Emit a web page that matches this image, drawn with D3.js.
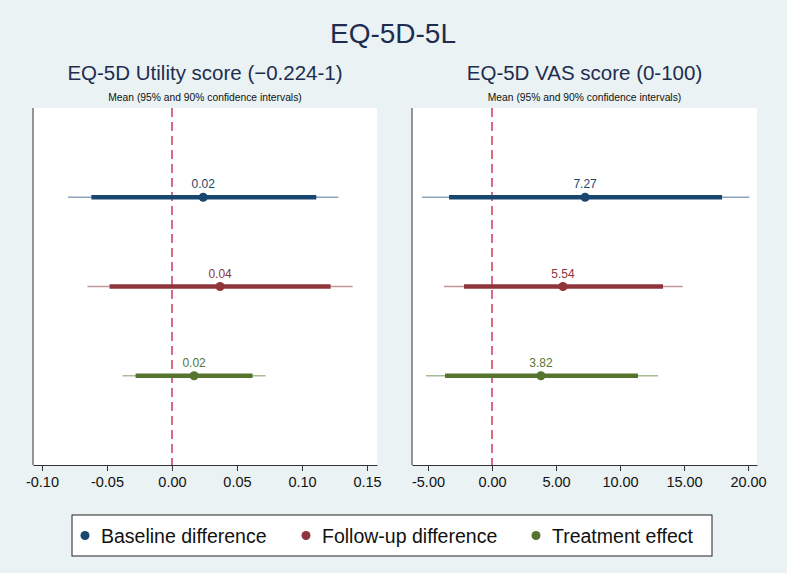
<!DOCTYPE html>
<html lang="en">
<head>
<meta charset="utf-8">
<title>EQ-5D-5L</title>
<script src="https://d3js.org/d3.v7.min.js"></script>
<style>
body { margin: 0; background: #eaf2f3; }
text { font-family: "Liberation Sans", Arial, sans-serif; }
</style>
</head>
<body>
<svg width="787" height="573"></svg>
<script>
var groups = ["Baseline difference", "Follow-up difference", "Treatment effect"];
var colors = ["#1a476f", "#90353b", "#55752f"];
var lightColors = ["#8ea3b7", "#c4969a", "#a9bb92"];

// utility score
var utilMean = [0.024, 0.037, 0.017];
var utilLabel = ["0.02", "0.04", "0.02"];
var util95Lo = [-0.080, -0.065, -0.038];
var util95Hi = [0.128, 0.139, 0.072];
var util90Lo = [-0.062, -0.048, -0.028];
var util90Hi = [0.111, 0.122, 0.062];
var utilTicks = [-0.10, -0.05, 0.00, 0.05, 0.10, 0.15];

// VAS score
var vasMean = [7.27, 5.54, 3.82];
var vasLabel = ["7.27", "5.54", "3.82"];
var vas95Lo = [-5.47, -3.75, -5.16];
var vas95Hi = [20.1, 14.9, 12.97];
var vas90Lo = [-3.36, -2.19, -3.67];
var vas90Hi = [17.97, 13.36, 11.4];
var vasTicks = [-5, 0, 5, 10, 15, 20];

var svg = d3.select("svg");

svg.append("text")
    .attr("x", 393).attr("y", 43)
    .attr("text-anchor", "middle")
    .attr("font-size", 28)
    .attr("fill", "#1e2d4f")
    .text("EQ-5D-5L");

var plotTop = 108, plotBottom = 465;

function panel(opt) {
  var g = svg.append("g");
  var x = d3.scaleLinear().domain(opt.domain).range([opt.left, opt.right]);
  var y = d3.scaleLinear().domain([0, 4]).range([plotTop, plotBottom]);
  var cx = (opt.left + opt.right) / 2;

  g.append("text")
      .attr("x", cx).attr("y", 80)
      .attr("text-anchor", "middle")
      .attr("font-size", 20.5)
      .attr("fill", "#1e2d4f")
      .text(opt.title);

  g.append("text")
      .attr("x", cx).attr("y", 101)
      .attr("text-anchor", "middle")
      .attr("font-size", 10.3)
      .attr("fill", "#111")
      .text("Mean (95% and 90% confidence intervals)");

  g.append("rect")
      .attr("x", opt.left).attr("y", plotTop)
      .attr("width", opt.right - opt.left).attr("height", plotBottom - plotTop)
      .attr("fill", "#fff");

  g.append("line")
      .attr("x1", x(0)).attr("x2", x(0))
      .attr("y1", plotTop).attr("y2", plotBottom)
      .attr("stroke", "#d0385a")
      .attr("stroke-width", 1.5)
      .attr("stroke-dasharray", "9,5");

  var rows = groups.map(function(d, i) {
    return {i: i, mean: opt.mean[i], label: opt.label[i],
            lo95: opt.lo95[i], hi95: opt.hi95[i], lo90: opt.lo90[i], hi90: opt.hi90[i]};
  });

  var r = g.selectAll(".row").data(rows).enter().append("g").attr("class", "row");

  r.append("line")
      .attr("x1", d => x(d.lo95)).attr("x2", d => x(d.hi95))
      .attr("y1", d => y(d.i + 1)).attr("y2", d => y(d.i + 1))
      .attr("stroke", d => lightColors[d.i])
      .attr("stroke-width", 1.5);

  r.append("line")
      .attr("x1", d => x(d.lo90)).attr("x2", d => x(d.hi90))
      .attr("y1", d => y(d.i + 1)).attr("y2", d => y(d.i + 1))
      .attr("stroke", d => colors[d.i])
      .attr("stroke-width", 4.5);

  r.append("circle")
      .attr("cx", d => x(d.mean)).attr("cy", d => y(d.i + 1))
      .attr("r", 4.5)
      .attr("fill", d => colors[d.i]);

  r.append("text")
      .attr("x", d => x(d.mean)).attr("y", d => y(d.i + 1) - 9)
      .attr("text-anchor", "middle")
      .attr("font-size", 12)
      .attr("fill", d => colors[d.i])
      .text(d => d.label);

  var axis = g.append("g")
      .attr("transform", `translate(0, ${plotBottom})`)
      .call(d3.axisBottom(x).tickValues(opt.ticks).tickSize(6).tickSizeOuter(0)
        .tickFormat(d => d3.format(opt.fmt)(d).replace("\u2212", "-")));
  axis.select(".domain").attr("stroke", "#333");
  axis.selectAll(".tick line").attr("stroke", "#333");
  axis.selectAll(".tick text").attr("font-size", 14.5).attr("fill", "#111").attr("dy", "0.9em")
      .attr("font-family", "Liberation Sans, Arial, sans-serif");

  g.append("line")
      .attr("x1", opt.left).attr("x2", opt.left)
      .attr("y1", plotTop).attr("y2", plotBottom)
      .attr("stroke", "#333");
}

panel({left: 33, right: 377, domain: [-0.1069, 0.1577], title: "EQ-5D Utility score (\u22120.224-1)",
       mean: utilMean, label: utilLabel, lo95: util95Lo, hi95: util95Hi, lo90: util90Lo, hi90: util90Hi,
       ticks: utilTicks, fmt: ".2f"});

panel({left: 412, right: 757, domain: [-6.25, 20.7], title: "EQ-5D VAS score (0-100)",
       mean: vasMean, label: vasLabel, lo95: vas95Lo, hi95: vas95Hi, lo90: vas90Lo, hi90: vas90Hi,
       ticks: vasTicks, fmt: ".2f"});

// legend
var legX = [85, 306, 536];
var leg = svg.append("g");
leg.append("rect")
    .attr("x", 72).attr("y", 515).attr("width", 640).attr("height", 41)
    .attr("fill", "#fff").attr("stroke", "#222").attr("stroke-width", 1);
groups.forEach(function(name, i) {
  leg.append("circle").attr("cx", legX[i]).attr("cy", 535.5).attr("r", 4.5).attr("fill", colors[i]);
  leg.append("text").attr("x", legX[i] + 16).attr("y", 542.5)
      .attr("font-size", 19.5).attr("fill", "#111").text(name);
});
</script>
</body>
</html>
